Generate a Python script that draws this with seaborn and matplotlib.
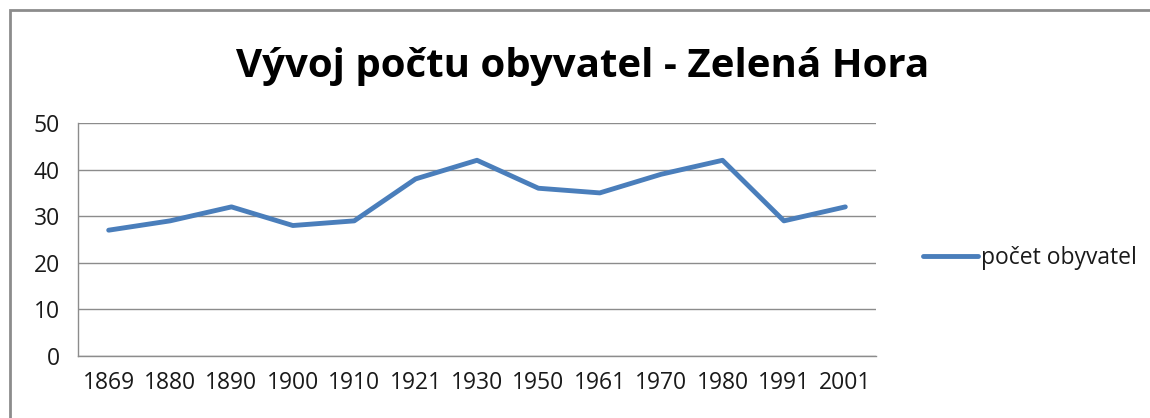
import matplotlib
matplotlib.use("Agg")
import matplotlib.pyplot as plt
import matplotlib.patches as patches
from matplotlib.ticker import FixedLocator
import seaborn as sns
import pandas as pd

# data
roky = ['1869', '1880', '1890', '1900', '1910', '1921', '1930',
        '1950', '1961', '1970', '1980', '1991', '2001']
obyvatel = [27, 29, 32, 28, 29, 38, 42, 36, 35, 39, 42, 29, 32]
y_ticks = [0, 10, 20, 30, 40, 50]
nazev = 'Vývoj počtu obyvatel - Zelená Hora'
serie = 'počet obyvatel'

df = pd.DataFrame({'rok': roky, serie: obyvatel})

sns.set_style("white")
plt.rcParams['font.family'] = ['Open Sans', 'DejaVu Sans']

fig = plt.figure(figsize=(11.5, 4.18), dpi=100)
ax = fig.add_axes([78 / 1150, 1 - 356 / 418, 798 / 1150, 233 / 418])

grid_c = '#8c8c8c'
line_c = '#4a7ebb'

sns.lineplot(data=df, x='rok', y=serie, ax=ax, color=line_c, linewidth=3.5,
             label=serie, sort=False)

ax.set_xlim(-0.5, len(roky) - 0.5)
ax.set_ylim(0, 50)
ax.set_yticks(y_ticks)
ax.set_xticks(range(len(roky)))
ax.set_xticklabels(roky)
ax.xaxis.set_minor_locator(FixedLocator([i - 0.5 for i in range(len(roky) + 1)]))
ax.tick_params(axis='x', which='major', length=0, pad=11, labelsize=16.5, colors='#1a1a1a')
ax.tick_params(axis='x', which='minor', length=7, width=1, color=grid_c, direction='out')
ax.tick_params(axis='y', length=6, width=1, color=grid_c, pad=7, labelsize=16.5, labelcolor='#1a1a1a')
ax.set_xlabel('')
ax.set_ylabel('')

ax.grid(axis='y', color=grid_c, linewidth=1)
ax.set_axisbelow(True)
for s in ['top', 'right']:
    ax.spines[s].set_visible(False)
for s in ['left', 'bottom']:
    ax.spines[s].set_color(grid_c)
    ax.spines[s].set_linewidth(1)

leg = ax.legend(loc='center left', bbox_to_anchor=(1.048, 0.42), frameon=False,
                fontsize=16.5, handlelength=2.4, handletextpad=0.1, borderaxespad=0)
for t in leg.get_texts():
    t.set_color('#1a1a1a')

fig.text(583 / 1150, 1 - 66 / 418, nazev, ha='center', va='center',
         fontsize=29, fontweight='bold', color='black')

# chart border like the original
fig.patches.append(patches.Rectangle((10 / 1150, -0.1), 1.2, 1 - 10 / 418 + 0.1,
                                     transform=fig.transFigure, fill=False,
                                     edgecolor='#8c8c8c', linewidth=2))

fig.savefig('out.png', dpi=100)
